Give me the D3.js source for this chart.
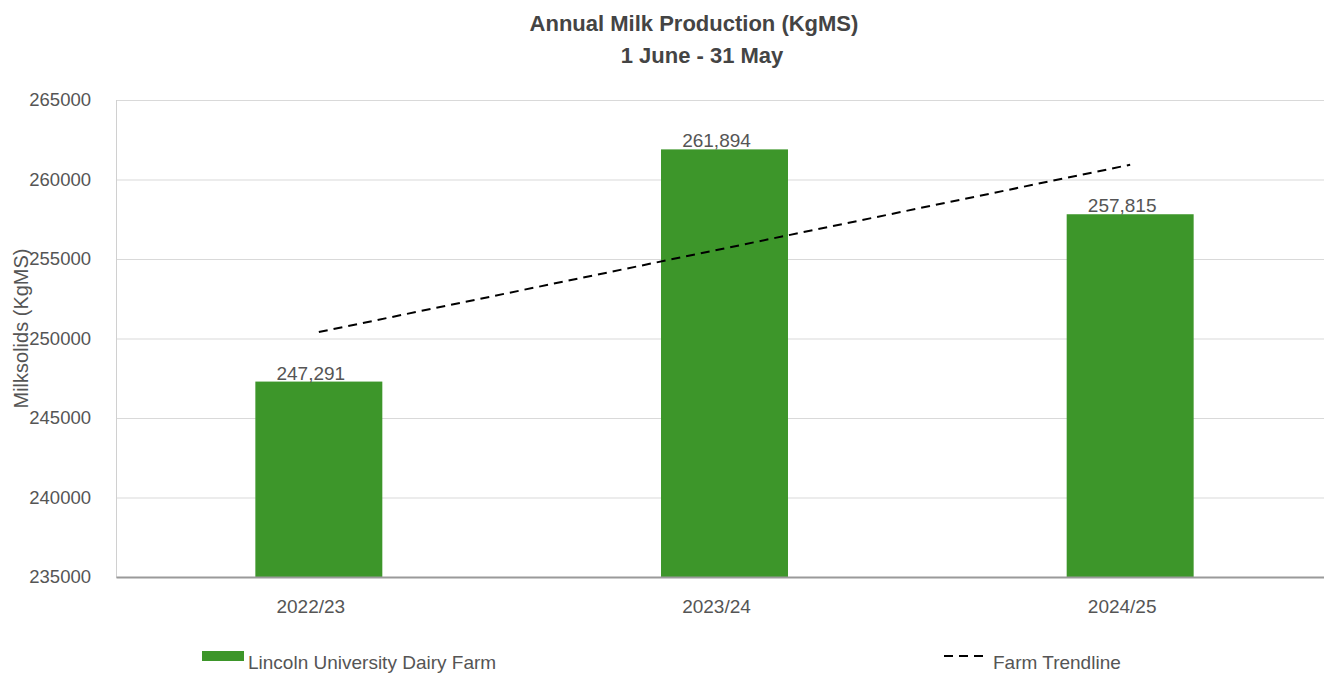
<!DOCTYPE html>
<html>
<head>
<meta charset="utf-8">
<script src="https://cdn.jsdelivr.net/npm/d3@7"></script>
<style>
  body { margin: 0; background: #fff; }
  svg { display: block; font-family: "Liberation Sans", Arial, sans-serif; }
  .grid line { stroke: #d9d9d9; stroke-width: 1; }
  .grid .domain { display: none; }
  .ytick text { fill: #555; font-size: 18.5px; }
  .xtick text { fill: #555; font-size: 19px; }
</style>
</head>
<body>
<svg id="chart"></svg>
<script>
// data
const seasons = ['2022/23', '2023/24', '2024/25']
const production = [247291, 261894, 257815]
const trendSeasons = ['2022/23', '2024/25']
const trendValues = [250405, 260929]
const yTicks = [235000, 240000, 245000, 250000, 255000, 260000, 265000]

const width = 1324, height = 673
const margin = {top: 100, right: -9, bottom: 96, left: 116}
const innerW = width - margin.left - margin.right
const innerH = height - margin.top - margin.bottom

const svg = d3.select('#chart')
  .attr('width', width)
  .attr('height', height)

// title
svg.append('text')
  .attr('x', 694).attr('y', 31)
  .attr('text-anchor', 'middle')
  .attr('font-size', 22).attr('font-weight', 'bold').attr('fill', '#444')
  .text('Annual Milk Production (KgMS)')
svg.append('text')
  .attr('x', 702).attr('y', 63)
  .attr('text-anchor', 'middle')
  .attr('font-size', 22).attr('font-weight', 'bold').attr('fill', '#444')
  .text('1 June - 31 May')

const g = svg.append('g')
  .attr('transform', 'translate(' + margin.left + ',' + margin.top + ')')

const x = d3.scaleBand()
  .domain(seasons)
  .range([0, innerW])
  .paddingInner(0.687)
  .paddingOuter(0.3435)

const y = d3.scaleLinear()
  .domain([235000, 265000])
  .range([innerH, 0])

// gridlines
g.append('g')
  .attr('class', 'grid')
  .call(d3.axisLeft(y).tickValues(yTicks).tickSize(-innerW).tickFormat(''))

// left edge line
g.append('line')
  .attr('x1', 0.5).attr('x2', 0.5)
  .attr('y1', 0).attr('y2', innerH)
  .attr('stroke', '#d0d0d0')

// y tick labels
const yAxis = g.append('g')
  .attr('class', 'ytick')
  .call(d3.axisLeft(y).tickValues(yTicks).tickSize(0).tickPadding(25).tickFormat(d3.format('d')))
yAxis.select('.domain').remove()

// y axis title
svg.append('text')
  .attr('transform', 'translate(28,' + (margin.top + innerH / 2 - 10) + ') rotate(-90)')
  .attr('text-anchor', 'middle')
  .attr('font-size', 20).attr('fill', '#555')
  .text('Milksolids (KgMS)')

// bars
g.selectAll('.bar')
  .data(production)
  .join('rect')
  .attr('class', 'bar')
  .attr('x', (d, i) => x(seasons[i]))
  .attr('width', x.bandwidth())
  .attr('y', d => y(d))
  .attr('height', d => innerH - y(d))
  .attr('fill', '#3d962a')

// value labels (sit a little left of bar centre in the original)
g.selectAll('.label')
  .data(production)
  .join('text')
  .attr('class', 'label')
  .attr('x', (d, i) => x(seasons[i]) + x.bandwidth() / 2 - 8)
  .attr('y', d => y(d) - 2)
  .attr('text-anchor', 'middle')
  .attr('font-size', 19).attr('fill', '#555')
  .text(d => d3.format(',')(d))

// x axis baseline + labels
const xAxis = g.append('g')
  .attr('class', 'xtick')
  .attr('transform', 'translate(0,' + innerH + ')')
  .call(d3.axisBottom(x).tickSize(0).tickPadding(23))
xAxis.select('.domain').attr('stroke', '#9a9a9a').attr('stroke-width', 2)
xAxis.selectAll('.tick text').attr('dx', -8)

// trendline
g.append('path')
  .datum(trendValues)
  .attr('fill', 'none')
  .attr('stroke', '#000')
  .attr('stroke-width', 2)
  .attr('stroke-dasharray', '9,6')
  .attr('d', d3.line()
    .x((d, i) => x(trendSeasons[i]) + x.bandwidth() / 2)
    .y(d => y(d)))

// legend
const legend = svg.append('g')
legend.append('rect')
  .attr('x', 202).attr('y', 651).attr('width', 42).attr('height', 10)
  .attr('fill', '#3d962a')
legend.append('text')
  .attr('x', 248).attr('y', 669)
  .attr('font-size', 19).attr('fill', '#555')
  .text('Lincoln University Dairy Farm')
legend.append('line')
  .attr('x1', 944).attr('x2', 987).attr('y1', 656).attr('y2', 656)
  .attr('stroke', '#000').attr('stroke-width', 2).attr('stroke-dasharray', '9,6')
legend.append('text')
  .attr('x', 993).attr('y', 669)
  .attr('font-size', 19).attr('fill', '#555')
  .text('Farm Trendline')
</script>
</body>
</html>
